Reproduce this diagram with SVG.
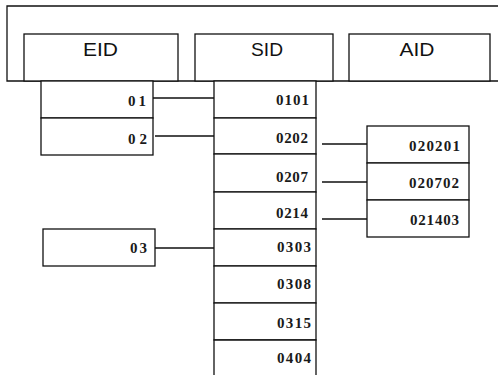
<svg xmlns="http://www.w3.org/2000/svg" width="498" height="375" viewBox="0 0 498 375">
<style>
.b{fill:#fff;stroke:#111;stroke-width:1.3}
.c{fill:none;stroke:#111;stroke-width:1.3}
.h{font-family:"Liberation Sans",Arial,sans-serif;font-size:19px;fill:#111;text-anchor:middle}
.t{font-family:"Liberation Serif","Times New Roman","DejaVu Serif",serif;font-size:15px;font-weight:bold;fill:#1a1a1a;text-anchor:end}
</style>
<rect width="498" height="375" fill="#fff"/>
<g id="frame">
<path class="c" d="M498,6 H7 V81 H498"/>
</g>
<g id="hdr-eid"><rect class="b" x="24" y="34" width="154" height="47"/><text class="h" x="100.5" y="56" textLength="35" lengthAdjust="spacingAndGlyphs">EID</text></g>
<g id="hdr-sid"><rect class="b" x="195" y="34" width="138" height="47"/><text class="h" x="267" y="56" textLength="32" lengthAdjust="spacingAndGlyphs">SID</text></g>
<g id="hdr-aid"><rect class="b" x="349" y="34" width="141" height="47"/><text class="h" x="417" y="56" textLength="35" lengthAdjust="spacingAndGlyphs">AID</text></g>
<g id="connectors">
<path class="c" d="M153,98 H214 M155,136 H214 M155,248 H214 M322,144 H367 M322,182 H367 M322,219 H367"/>
</g>
<g id="e01"><rect class="b" x="41" y="81" width="112" height="37"/><text class="t" x="146" y="106" textLength="18" lengthAdjust="spacing">01</text></g>
<g id="e02"><rect class="b" x="41" y="118" width="112" height="37"/><text class="t" x="147" y="144" textLength="19" lengthAdjust="spacing">02</text></g>
<g id="e03"><rect class="b" x="43" y="229" width="112" height="37"/><text class="t" x="147" y="253" textLength="17" lengthAdjust="spacing">03</text></g>
<g id="s0101"><rect class="b" x="214" y="81" width="102" height="37"/><text class="t" x="309" y="105" textLength="33" lengthAdjust="spacing">0101</text></g>
<g id="s0202"><rect class="b" x="214" y="118" width="102" height="36"/><text class="t" x="308" y="143" textLength="32" lengthAdjust="spacing">0202</text></g>
<g id="s0207"><rect class="b" x="214" y="154" width="102" height="38"/><text class="t" x="308" y="182" textLength="32" lengthAdjust="spacing">0207</text></g>
<g id="s0214"><rect class="b" x="214" y="192" width="102" height="37"/><text class="t" x="308" y="218" textLength="32" lengthAdjust="spacing">0214</text></g>
<g id="s0303"><rect class="b" x="214" y="229" width="102" height="37"/><text class="t" x="311" y="252" textLength="34" lengthAdjust="spacing">0303</text></g>
<g id="s0308"><rect class="b" x="214" y="266" width="102" height="37"/><text class="t" x="311" y="289" textLength="34" lengthAdjust="spacing">0308</text></g>
<g id="s0315"><rect class="b" x="214" y="303" width="102" height="37"/><text class="t" x="311" y="328" textLength="34" lengthAdjust="spacing">0315</text></g>
<g id="s0404"><path class="b" d="M214,376 V340 H316 V376"/><text class="t" x="311" y="363" textLength="34" lengthAdjust="spacing">0404</text></g>
<g id="a020201"><rect class="b" x="367" y="126" width="102" height="37"/><text class="t" x="460" y="151" textLength="51" lengthAdjust="spacing">020201</text></g>
<g id="a020702"><rect class="b" x="367" y="163" width="102" height="37"/><text class="t" x="459" y="188" textLength="50" lengthAdjust="spacing">020702</text></g>
<g id="a021403"><rect class="b" x="367" y="200" width="102" height="37"/><text class="t" x="459" y="225" textLength="49" lengthAdjust="spacing">021403</text></g>
</svg>
